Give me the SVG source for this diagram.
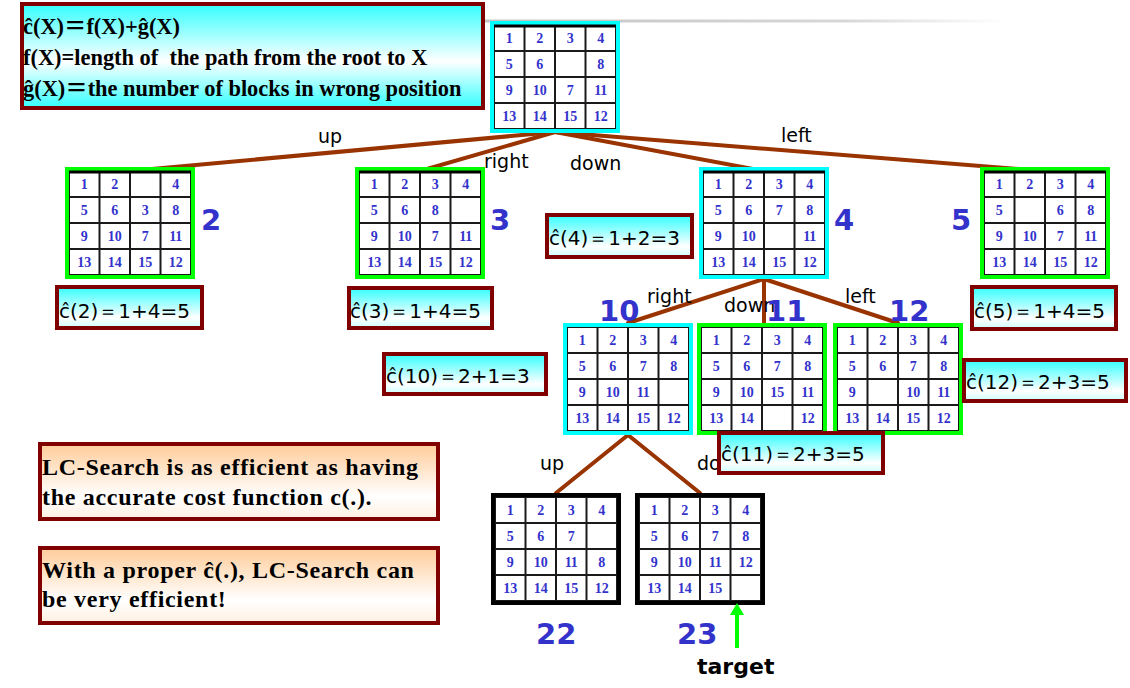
<svg xmlns="http://www.w3.org/2000/svg" xmlns:xlink="http://www.w3.org/1999/xlink" width="1130" height="688" viewBox="0 0 1130 688">
<defs>
<linearGradient id="gCyan" x1="0" y1="0" x2="0" y2="1">
<stop offset="0" stop-color="#33ffff"/><stop offset="0.75" stop-color="#ffffff"/><stop offset="1" stop-color="#ccffff"/>
</linearGradient>
<linearGradient id="gTop" x1="0" y1="0" x2="0" y2="1">
<stop offset="0" stop-color="#33ffff"/><stop offset="0.55" stop-color="#ffffff"/><stop offset="1" stop-color="#33ffff"/>
</linearGradient>
<linearGradient id="gPeach" x1="0" y1="0" x2="0" y2="1">
<stop offset="0" stop-color="#ffcc99"/><stop offset="0.7" stop-color="#ffffff"/><stop offset="1" stop-color="#fff0e0"/>
</linearGradient>
<linearGradient id="gGray" x1="0" y1="0" x2="1" y2="0">
<stop offset="0" stop-color="#c4c4c4"/><stop offset="0.7" stop-color="#d8d8d8"/><stop offset="1" stop-color="#ffffff"/>
</linearGradient>
<g id="grid">
<rect x="4" y="4" width="122" height="104" fill="#ffffff"/>
<path d="M4 4 H126 V108 H4 Z M34.5 4 V108 M65 4 V108 M95.5 4 V108 M4 30 H126 M4 56 H126 M4 82 H126" fill="none" stroke="#1a1a1a" stroke-width="2"/>
</g>
</defs>
<style>
.edge{stroke:#993300;stroke-width:4;fill:none;stroke-linecap:round}
.elab{font-family:"DejaVu Sans",Verdana,sans-serif;font-size:19px;fill:#000}
.num{font-family:"Liberation Serif","Times New Roman",serif;font-weight:bold;font-size:14px;fill:#3333cc;text-anchor:middle}
.nlab{font-family:"DejaVu Sans",Verdana,sans-serif;font-weight:bold;font-size:29px;fill:#3333cc}
.cyanb{fill:none;stroke:#00ffff;stroke-width:4}
.greenb{fill:none;stroke:#00ff00;stroke-width:4}
.blackb{fill:none;stroke:#000000;stroke-width:4}
.cbox{fill:url(#gCyan);stroke:#800000;stroke-width:4}
.ctext{font-family:"DejaVu Sans",Tahoma,sans-serif;font-size:20px;fill:#000}
.pbox{fill:url(#gPeach);stroke:#800000;stroke-width:4}
.btext{font-family:"Liberation Serif","Times New Roman",serif;font-weight:bold;font-size:24px;letter-spacing:0.7px;fill:#000}
.ttext{font-family:"Liberation Serif","Times New Roman","Noto Sans CJK SC",serif;font-weight:bold;font-size:22.4px;fill:#000;white-space:pre}
.toprule{stroke-width:3;stroke:#000}
</style>
<rect width="1130" height="688" fill="#ffffff"/>
<rect x="485" y="19.5" width="520" height="3" fill="url(#gGray)"/>

<g id="connectors">
<line class="edge" x1="555" y1="132" x2="130" y2="171"/>
<line class="edge" x1="555" y1="132" x2="420" y2="171"/>
<line class="edge" x1="555" y1="132" x2="764" y2="171"/>
<line class="edge" x1="555" y1="132" x2="1044" y2="171"/>
<line class="edge" x1="764" y1="279" x2="628" y2="323"/>
<line class="edge" x1="764" y1="279" x2="764" y2="323"/>
<line class="edge" x1="764" y1="279" x2="898" y2="323"/>
<line class="edge" x1="628" y1="435" x2="556" y2="493"/>
<line class="edge" x1="628" y1="435" x2="700" y2="493"/>
<text class="elab" x="318" y="143">up</text>
<text class="elab" x="484" y="168">right</text>
<text class="elab" x="570" y="170">down</text>
<text class="elab" x="781" y="142">left</text>
<text class="elab" x="647" y="303">right</text>
<text class="elab" x="724" y="312">down</text>
<text class="elab" x="845" y="303">left</text>
<text class="elab" x="540" y="470">up</text>
<text class="elab" x="697" y="470">down</text>
</g>

<g id="node-root" transform="translate(490,21)">
<use xlink:href="#grid"/><rect class="cyanb" x="2" y="2" width="126" height="108"/><line class="toprule" x1="4" y1="5" x2="126" y2="5"/>
<text class="num" x="19.25" y="22">1</text><text class="num" x="49.75" y="22">2</text><text class="num" x="80.25" y="22">3</text><text class="num" x="110.75" y="22">4</text>
<text class="num" x="19.25" y="48">5</text><text class="num" x="49.75" y="48">6</text><text class="num" x="110.75" y="48">8</text>
<text class="num" x="19.25" y="74">9</text><text class="num" x="49.75" y="74">10</text><text class="num" x="80.25" y="74">7</text><text class="num" x="110.75" y="74">11</text>
<text class="num" x="19.25" y="100">13</text><text class="num" x="49.75" y="100">14</text><text class="num" x="80.25" y="100">15</text><text class="num" x="110.75" y="100">12</text>
</g>

<g id="node-2" transform="translate(65,167)">
<use xlink:href="#grid"/><rect class="greenb" x="2" y="2" width="126" height="108"/><line class="toprule" x1="4" y1="5" x2="126" y2="5"/>
<text class="num" x="19.25" y="22">1</text><text class="num" x="49.75" y="22">2</text><text class="num" x="110.75" y="22">4</text>
<text class="num" x="19.25" y="48">5</text><text class="num" x="49.75" y="48">6</text><text class="num" x="80.25" y="48">3</text><text class="num" x="110.75" y="48">8</text>
<text class="num" x="19.25" y="74">9</text><text class="num" x="49.75" y="74">10</text><text class="num" x="80.25" y="74">7</text><text class="num" x="110.75" y="74">11</text>
<text class="num" x="19.25" y="100">13</text><text class="num" x="49.75" y="100">14</text><text class="num" x="80.25" y="100">15</text><text class="num" x="110.75" y="100">12</text>
</g>
<g id="node-3" transform="translate(355,167)">
<use xlink:href="#grid"/><rect class="greenb" x="2" y="2" width="126" height="108"/><line class="toprule" x1="4" y1="5" x2="126" y2="5"/>
<text class="num" x="19.25" y="22">1</text><text class="num" x="49.75" y="22">2</text><text class="num" x="80.25" y="22">3</text><text class="num" x="110.75" y="22">4</text>
<text class="num" x="19.25" y="48">5</text><text class="num" x="49.75" y="48">6</text><text class="num" x="80.25" y="48">8</text>
<text class="num" x="19.25" y="74">9</text><text class="num" x="49.75" y="74">10</text><text class="num" x="80.25" y="74">7</text><text class="num" x="110.75" y="74">11</text>
<text class="num" x="19.25" y="100">13</text><text class="num" x="49.75" y="100">14</text><text class="num" x="80.25" y="100">15</text><text class="num" x="110.75" y="100">12</text>
</g>
<g id="node-4" transform="translate(699,167)">
<use xlink:href="#grid"/><rect class="cyanb" x="2" y="2" width="126" height="108"/><line class="toprule" x1="4" y1="5" x2="126" y2="5"/>
<text class="num" x="19.25" y="22">1</text><text class="num" x="49.75" y="22">2</text><text class="num" x="80.25" y="22">3</text><text class="num" x="110.75" y="22">4</text>
<text class="num" x="19.25" y="48">5</text><text class="num" x="49.75" y="48">6</text><text class="num" x="80.25" y="48">7</text><text class="num" x="110.75" y="48">8</text>
<text class="num" x="19.25" y="74">9</text><text class="num" x="49.75" y="74">10</text><text class="num" x="110.75" y="74">11</text>
<text class="num" x="19.25" y="100">13</text><text class="num" x="49.75" y="100">14</text><text class="num" x="80.25" y="100">15</text><text class="num" x="110.75" y="100">12</text>
</g>
<g id="node-5" transform="translate(980,167)">
<use xlink:href="#grid"/><rect class="greenb" x="2" y="2" width="126" height="108"/><line class="toprule" x1="4" y1="5" x2="126" y2="5"/>
<text class="num" x="19.25" y="22">1</text><text class="num" x="49.75" y="22">2</text><text class="num" x="80.25" y="22">3</text><text class="num" x="110.75" y="22">4</text>
<text class="num" x="19.25" y="48">5</text><text class="num" x="80.25" y="48">6</text><text class="num" x="110.75" y="48">8</text>
<text class="num" x="19.25" y="74">9</text><text class="num" x="49.75" y="74">10</text><text class="num" x="80.25" y="74">7</text><text class="num" x="110.75" y="74">11</text>
<text class="num" x="19.25" y="100">13</text><text class="num" x="49.75" y="100">14</text><text class="num" x="80.25" y="100">15</text><text class="num" x="110.75" y="100">12</text>
</g>
<g id="node-10" transform="translate(563,323)">
<use xlink:href="#grid"/><rect class="cyanb" x="2" y="2" width="126" height="108"/>
<text class="num" x="19.25" y="22">1</text><text class="num" x="49.75" y="22">2</text><text class="num" x="80.25" y="22">3</text><text class="num" x="110.75" y="22">4</text>
<text class="num" x="19.25" y="48">5</text><text class="num" x="49.75" y="48">6</text><text class="num" x="80.25" y="48">7</text><text class="num" x="110.75" y="48">8</text>
<text class="num" x="19.25" y="74">9</text><text class="num" x="49.75" y="74">10</text><text class="num" x="80.25" y="74">11</text>
<text class="num" x="19.25" y="100">13</text><text class="num" x="49.75" y="100">14</text><text class="num" x="80.25" y="100">15</text><text class="num" x="110.75" y="100">12</text>
</g>
<g id="node-11" transform="translate(697,323)">
<use xlink:href="#grid"/><rect class="greenb" x="2" y="2" width="126" height="108"/>
<text class="num" x="19.25" y="22">1</text><text class="num" x="49.75" y="22">2</text><text class="num" x="80.25" y="22">3</text><text class="num" x="110.75" y="22">4</text>
<text class="num" x="19.25" y="48">5</text><text class="num" x="49.75" y="48">6</text><text class="num" x="80.25" y="48">7</text><text class="num" x="110.75" y="48">8</text>
<text class="num" x="19.25" y="74">9</text><text class="num" x="49.75" y="74">10</text><text class="num" x="80.25" y="74">15</text><text class="num" x="110.75" y="74">11</text>
<text class="num" x="19.25" y="100">13</text><text class="num" x="49.75" y="100">14</text><text class="num" x="110.75" y="100">12</text>
</g>
<g id="node-12" transform="translate(833,323)">
<use xlink:href="#grid"/><rect class="greenb" x="2" y="2" width="126" height="108"/>
<text class="num" x="19.25" y="22">1</text><text class="num" x="49.75" y="22">2</text><text class="num" x="80.25" y="22">3</text><text class="num" x="110.75" y="22">4</text>
<text class="num" x="19.25" y="48">5</text><text class="num" x="49.75" y="48">6</text><text class="num" x="80.25" y="48">7</text><text class="num" x="110.75" y="48">8</text>
<text class="num" x="19.25" y="74">9</text><text class="num" x="80.25" y="74">10</text><text class="num" x="110.75" y="74">11</text>
<text class="num" x="19.25" y="100">13</text><text class="num" x="49.75" y="100">14</text><text class="num" x="80.25" y="100">15</text><text class="num" x="110.75" y="100">12</text>
</g>
<g id="node-22" transform="translate(491,493)">
<use xlink:href="#grid"/><rect class="blackb" x="2" y="2" width="126" height="108"/>
<text class="num" x="19.25" y="22">1</text><text class="num" x="49.75" y="22">2</text><text class="num" x="80.25" y="22">3</text><text class="num" x="110.75" y="22">4</text>
<text class="num" x="19.25" y="48">5</text><text class="num" x="49.75" y="48">6</text><text class="num" x="80.25" y="48">7</text>
<text class="num" x="19.25" y="74">9</text><text class="num" x="49.75" y="74">10</text><text class="num" x="80.25" y="74">11</text><text class="num" x="110.75" y="74">8</text>
<text class="num" x="19.25" y="100">13</text><text class="num" x="49.75" y="100">14</text><text class="num" x="80.25" y="100">15</text><text class="num" x="110.75" y="100">12</text>
</g>
<g id="node-23" transform="translate(635,493)">
<use xlink:href="#grid"/><rect class="blackb" x="2" y="2" width="126" height="108"/>
<text class="num" x="19.25" y="22">1</text><text class="num" x="49.75" y="22">2</text><text class="num" x="80.25" y="22">3</text><text class="num" x="110.75" y="22">4</text>
<text class="num" x="19.25" y="48">5</text><text class="num" x="49.75" y="48">6</text><text class="num" x="80.25" y="48">7</text><text class="num" x="110.75" y="48">8</text>
<text class="num" x="19.25" y="74">9</text><text class="num" x="49.75" y="74">10</text><text class="num" x="80.25" y="74">11</text><text class="num" x="110.75" y="74">12</text>
<text class="num" x="19.25" y="100">13</text><text class="num" x="49.75" y="100">14</text><text class="num" x="80.25" y="100">15</text>
</g>

<g id="node-labels">
<text class="nlab" x="201" y="230">2</text>
<text class="nlab" x="490" y="230">3</text>
<text class="nlab" x="834" y="230">4</text>
<text class="nlab" x="951" y="230">5</text>
<text class="nlab" x="599" y="321">10</text>
<text class="nlab" x="766" y="321">11</text>
<text class="nlab" x="889" y="321">12</text>
<text class="nlab" x="536" y="644">22</text>
<text class="nlab" x="677" y="644">23</text>
</g>

<g id="cost-2"><rect class="cbox" x="57" y="287" width="145" height="41"/><text class="ctext" x="59" y="318">ĉ(2)＝1+4=5</text></g>
<g id="cost-3"><rect class="cbox" x="349" y="288" width="143" height="40"/><text class="ctext" x="350" y="318">ĉ(3)＝1+4=5</text></g>
<g id="cost-4"><rect class="cbox" x="547" y="215" width="145" height="42"/><text class="ctext" x="549" y="245">ĉ(4)＝1+2=3</text></g>
<g id="cost-5"><rect class="cbox" x="972" y="287" width="144" height="42"/><text class="ctext" x="974" y="318">ĉ(5)＝1+4=5</text></g>
<g id="cost-10"><rect class="cbox" x="384" y="354" width="162" height="40"/><text class="ctext" x="386" y="383">ĉ(10)＝2+1=3</text></g>
<g id="cost-11"><rect class="cbox" x="719" y="433" width="164" height="40"/><text class="ctext" x="721" y="461">ĉ(11)＝2+3=5</text></g>
<g id="cost-12"><rect class="cbox" x="964" y="360" width="162" height="41"/><text class="ctext" x="966" y="389">ĉ(12)＝2+3=5</text></g>

<g id="definition-box">
<rect x="22" y="4" width="461" height="104" fill="url(#gTop)" stroke="#800000" stroke-width="4"/>
<text class="ttext" x="23" y="34">ĉ(X)＝f(X)+ĝ(X)</text>
<text class="ttext" x="23" y="65">f(X)=length of  the path from the root to X</text>
<text class="ttext" x="23" y="96">ĝ(X)＝the number of blocks in wrong position</text>
</g>

<g id="note-1">
<rect class="pbox" x="40" y="444" width="398" height="75"/>
<text class="btext" x="42" y="475">LC-Search is as efficient as having</text>
<text class="btext" x="42" y="505">the accurate cost function c(.).</text>
</g>
<g id="note-2">
<rect class="pbox" x="40" y="548" width="398" height="75"/>
<text class="btext" x="42" y="578">With a proper ĉ(.), LC-Search can</text>
<text class="btext" x="42" y="607">be very efficient!</text>
</g>

<g id="target">
<line x1="737" y1="648" x2="737" y2="612" stroke="#00ff00" stroke-width="4"/>
<polygon points="737,603 730,615 744,615" fill="#00ff00"/>
<text x="697" y="674" font-family="DejaVu Sans,Verdana,sans-serif" font-weight="bold" font-size="22" fill="#000">target</text>
</g>
</svg>
